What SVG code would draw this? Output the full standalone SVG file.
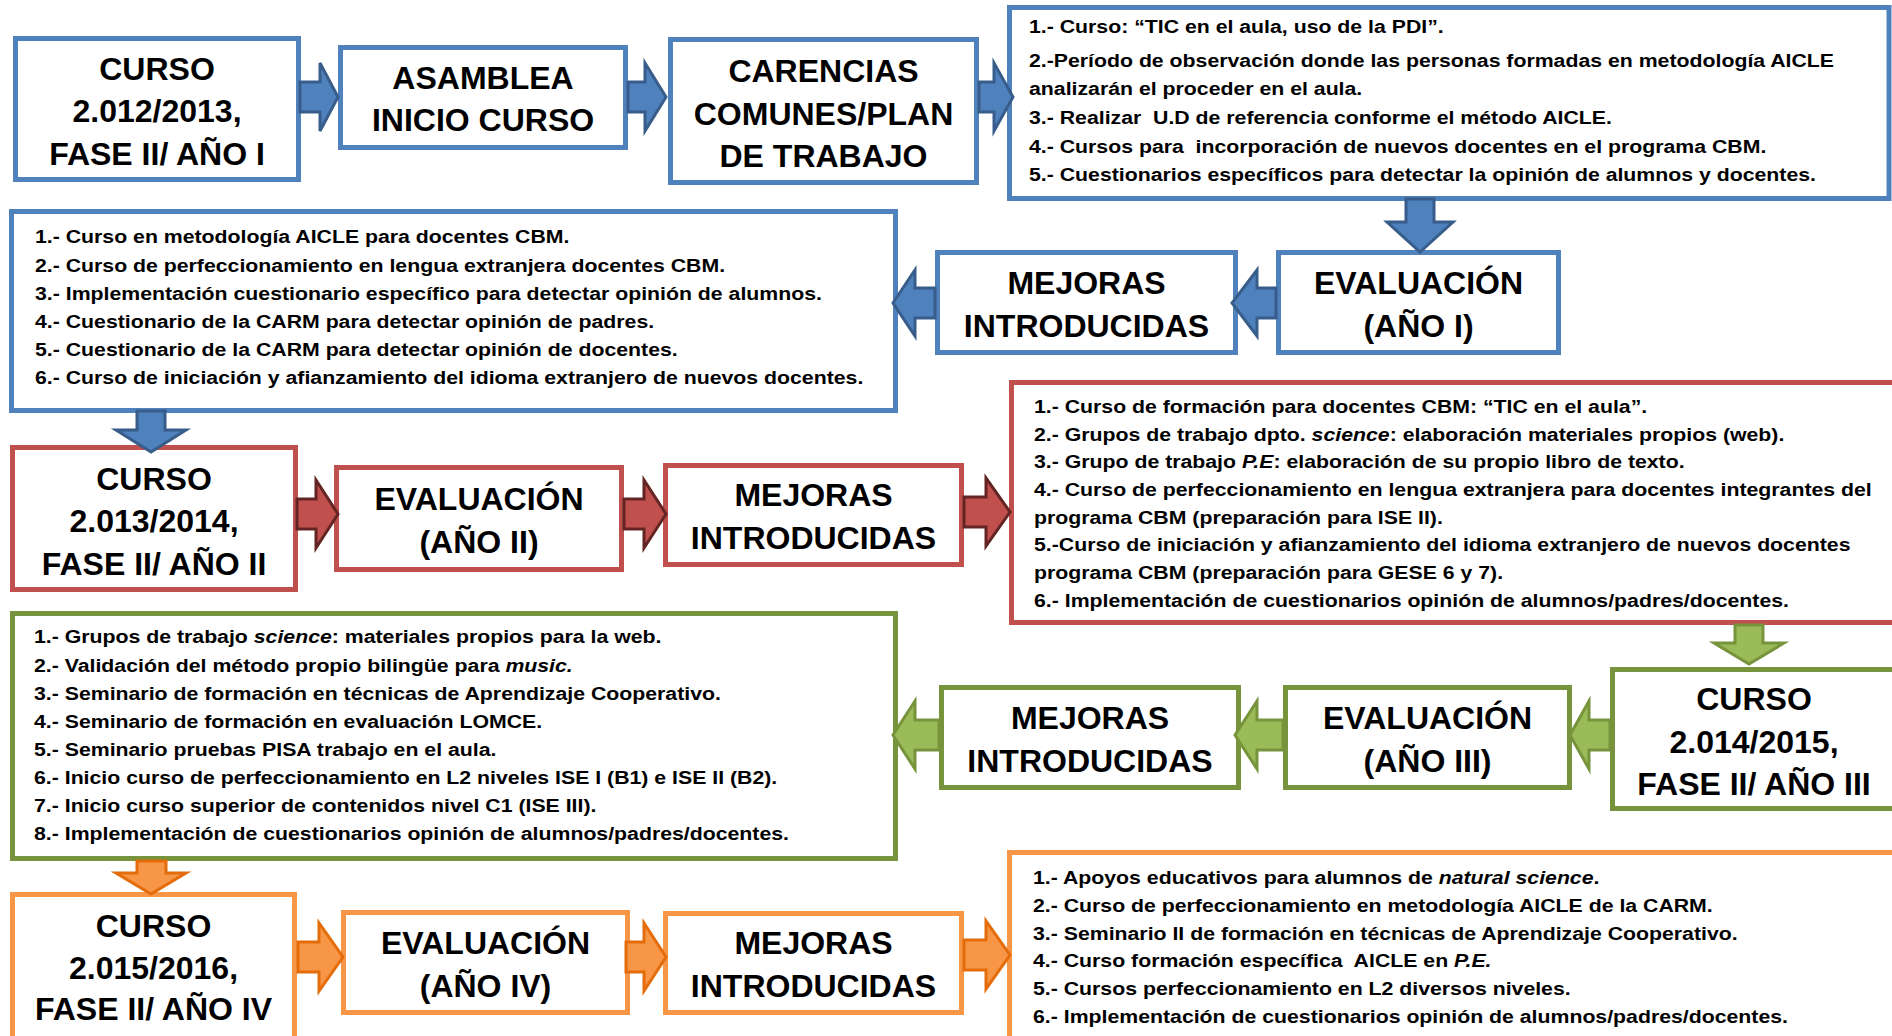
<svg xmlns="http://www.w3.org/2000/svg" width="1892" height="1036" viewBox="0 0 1892 1036">
<style>
  .bx { fill: #FFFFFF; stroke-width: 5; }
  .b { stroke: #4F81BD; }
  .r { stroke: #C0504D; }
  .g { stroke: #77933C; }
  .o { stroke: #F79646; }
  .lbl { font-family: "Liberation Sans", Arial, sans-serif; font-weight: bold; font-size: 32px; fill: #000; text-anchor: middle; }
  .li { font-family: "Liberation Sans", Arial, sans-serif; font-weight: bold; font-size: 19px; fill: #000; white-space: pre; }
  .it { font-style: italic; }
  .ab { fill: #4F81BD; stroke: #385D8A; stroke-width: 3; stroke-linejoin: miter; }
  .ar { fill: #C0504D; stroke: #632523; stroke-width: 3; stroke-linejoin: miter; }
  .ag { fill: #9BBB59; stroke: #77933C; stroke-width: 3; stroke-linejoin: miter; }
  .ao { fill: #F79646; stroke: #E46C0A; stroke-width: 3; stroke-linejoin: miter; }
</style>
<rect x="0" y="0" width="1892" height="1036" fill="#FFFFFF"/>

<!-- Row 1 (blue) -->
<g id="curso2012">
  <rect class="bx b" x="15.5" y="38.5" width="283" height="141"/>
  <text class="lbl" x="157" y="80">CURSO</text>
  <text class="lbl" x="157" y="122">2.012/2013,</text>
  <text class="lbl" x="157" y="165">FASE II/ AÑO I</text>
</g>
<g id="asamblea">
  <rect class="bx b" x="340.5" y="47.5" width="285" height="100"/>
  <text class="lbl" x="483" y="89">ASAMBLEA</text>
  <text class="lbl" x="483" y="131">INICIO CURSO</text>
</g>
<g id="carencias">
  <rect class="bx b" x="670.5" y="39.5" width="306" height="143"/>
  <text class="lbl" x="823.5" y="81.5">CARENCIAS</text>
  <text class="lbl" x="823.5" y="124.5">COMUNES/PLAN</text>
  <text class="lbl" x="823.5" y="167">DE TRABAJO</text>
</g>
<g id="plan1">
  <rect class="bx b" x="1009.5" y="7.5" width="879.5" height="191"/>
  <g transform="translate(1029,0) scale(1.12,1)">
    <text class="li" x="0" y="33">1.- Curso: “TIC en el aula, uso de la PDI”.</text>
    <text class="li" x="0" y="67">2.-Período de observación donde las personas formadas en metodología AICLE</text>
    <text class="li" x="0" y="95.5">analizarán el proceder en el aula.</text>
    <text class="li" x="0" y="124.5">3.- Realizar  U.D de referencia conforme el método AICLE.</text>
    <text class="li" x="0" y="153">4.- Cursos para  incorporación de nuevos docentes en el programa CBM.</text>
    <text class="li" x="0" y="181.5">5.- Cuestionarios específicos para detectar la opinión de alumnos y docentes.</text>
  </g>
</g>

<!-- Row 2 (blue) -->
<g id="eval1">
  <rect class="bx b" x="1278.5" y="252.5" width="280" height="100"/>
  <text class="lbl" x="1418.5" y="293.5">EVALUACIÓN</text>
  <text class="lbl" x="1418.5" y="336.5">(AÑO I)</text>
</g>
<g id="mejoras1">
  <rect class="bx b" x="937.5" y="252.5" width="298" height="100"/>
  <text class="lbl" x="1086.5" y="293.5">MEJORAS</text>
  <text class="lbl" x="1086.5" y="336.5">INTRODUCIDAS</text>
</g>
<g id="lista1">
  <rect class="bx b" x="11.5" y="211.5" width="884" height="199"/>
  <g transform="translate(35,0) scale(1.12,1)">
    <text class="li" x="0" y="243.5">1.- Curso en metodología AICLE para docentes CBM.</text>
    <text class="li" x="0" y="271.7">2.- Curso de perfeccionamiento en lengua extranjera docentes CBM.</text>
    <text class="li" x="0" y="299.9">3.- Implementación cuestionario específico para detectar opinión de alumnos.</text>
    <text class="li" x="0" y="328.1">4.- Cuestionario de la CARM para detectar opinión de padres.</text>
    <text class="li" x="0" y="356.3">5.- Cuestionario de la CARM para detectar opinión de docentes.</text>
    <text class="li" x="0" y="384.5">6.- Curso de iniciación y afianzamiento del idioma extranjero de nuevos docentes.</text>
  </g>
</g>

<!-- Row 3 (red) -->
<g id="curso2013">
  <rect class="bx r" x="12.5" y="447.5" width="283" height="142"/>
  <text class="lbl" x="154" y="489.5">CURSO</text>
  <text class="lbl" x="154" y="532">2.013/2014,</text>
  <text class="lbl" x="154" y="574.5">FASE II/ AÑO II</text>
</g>
<g id="eval2">
  <rect class="bx r" x="336.5" y="467.5" width="285" height="102"/>
  <text class="lbl" x="479" y="509.5">EVALUACIÓN</text>
  <text class="lbl" x="479" y="552.5">(AÑO II)</text>
</g>
<g id="mejoras2">
  <rect class="bx r" x="665.5" y="465.5" width="296" height="99"/>
  <text class="lbl" x="813.5" y="506">MEJORAS</text>
  <text class="lbl" x="813.5" y="549">INTRODUCIDAS</text>
</g>
<g id="lista2">
  <rect class="bx r" x="1011.5" y="382.5" width="900" height="240"/>
  <g transform="translate(1034,0) scale(1.12,1)">
    <text class="li" x="0" y="413">1.- Curso de formación para docentes CBM: “TIC en el aula”.</text>
    <text class="li" x="0" y="440.7">2.- Grupos de trabajo dpto. <tspan class="it">science</tspan>: elaboración materiales propios (web).</text>
    <text class="li" x="0" y="468.4">3.- Grupo de trabajo <tspan class="it">P.E</tspan>: elaboración de su propio libro de texto.</text>
    <text class="li" x="0" y="496.1">4.- Curso de perfeccionamiento en lengua extranjera para docentes integrantes del</text>
    <text class="li" x="0" y="523.8">programa CBM (preparación para ISE II).</text>
    <text class="li" x="0" y="551.5">5.-Curso de iniciación y afianzamiento del idioma extranjero de nuevos docentes</text>
    <text class="li" x="0" y="579.2">programa CBM (preparación para GESE 6 y 7).</text>
    <text class="li" x="0" y="606.9">6.- Implementación de cuestionarios opinión de alumnos/padres/docentes.</text>
  </g>
</g>

<!-- Row 4 (green) -->
<g id="curso2014">
  <rect class="bx g" x="1612.5" y="669.5" width="283" height="139"/>
  <text class="lbl" x="1754" y="710">CURSO</text>
  <text class="lbl" x="1754" y="752.5">2.014/2015,</text>
  <text class="lbl" x="1754" y="795">FASE II/ AÑO III</text>
</g>
<g id="eval3">
  <rect class="bx g" x="1285.5" y="687.5" width="284" height="100"/>
  <text class="lbl" x="1427.5" y="728.5">EVALUACIÓN</text>
  <text class="lbl" x="1427.5" y="771.5">(AÑO III)</text>
</g>
<g id="mejoras3">
  <rect class="bx g" x="941.5" y="687.5" width="297" height="100"/>
  <text class="lbl" x="1090" y="728.5">MEJORAS</text>
  <text class="lbl" x="1090" y="771.5">INTRODUCIDAS</text>
</g>
<g id="lista3">
  <rect class="bx g" x="12.5" y="613.5" width="883" height="245"/>
  <g transform="translate(34,0) scale(1.12,1)">
    <text class="li" x="0" y="643.5">1.- Grupos de trabajo <tspan class="it">science</tspan>: materiales propios para la web.</text>
    <text class="li" x="0" y="671.6">2.- Validación del método propio bilingüe para <tspan class="it">music.</tspan></text>
    <text class="li" x="0" y="699.7">3.- Seminario de formación en técnicas de Aprendizaje Cooperativo.</text>
    <text class="li" x="0" y="727.8">4.- Seminario de formación en evaluación LOMCE.</text>
    <text class="li" x="0" y="755.9">5.- Seminario pruebas PISA trabajo en el aula.</text>
    <text class="li" x="0" y="784">6.- Inicio curso de perfeccionamiento en L2 niveles ISE I (B1) e ISE II (B2).</text>
    <text class="li" x="0" y="812.1">7.- Inicio curso superior de contenidos nivel C1 (ISE III).</text>
    <text class="li" x="0" y="840.2">8.- Implementación de cuestionarios opinión de alumnos/padres/docentes.</text>
  </g>
</g>

<!-- Row 5 (orange) -->
<g id="curso2015">
  <rect class="bx o" x="12.5" y="894.5" width="282" height="160"/>
  <text class="lbl" x="153.5" y="937">CURSO</text>
  <text class="lbl" x="153.5" y="978.5">2.015/2016,</text>
  <text class="lbl" x="153.5" y="1020">FASE II/ AÑO IV</text>
</g>
<g id="eval4">
  <rect class="bx o" x="343.5" y="912.5" width="284" height="100"/>
  <text class="lbl" x="485.5" y="953.5">EVALUACIÓN</text>
  <text class="lbl" x="485.5" y="996.5">(AÑO IV)</text>
</g>
<g id="mejoras4">
  <rect class="bx o" x="665.5" y="913.5" width="296" height="99"/>
  <text class="lbl" x="813.5" y="954">MEJORAS</text>
  <text class="lbl" x="813.5" y="997">INTRODUCIDAS</text>
</g>
<g id="lista4">
  <rect class="bx o" x="1009.5" y="852.5" width="900" height="200"/>
  <g transform="translate(1033,0) scale(1.12,1)">
    <text class="li" x="0" y="884">1.- Apoyos educativos para alumnos de <tspan class="it">natural science</tspan>.</text>
    <text class="li" x="0" y="911.8">2.- Curso de perfeccionamiento en metodología AICLE de la CARM.</text>
    <text class="li" x="0" y="939.6">3.- Seminario II de formación en técnicas de Aprendizaje Cooperativo.</text>
    <text class="li" x="0" y="967.4">4.- Curso formación específica  AICLE en <tspan class="it">P.E.</tspan></text>
    <text class="li" x="0" y="995.2">5.- Cursos perfeccionamiento en L2 diversos niveles.</text>
    <text class="li" x="0" y="1023">6.- Implementación de cuestionarios opinión de alumnos/padres/docentes.</text>
  </g>
</g>

<!-- Connectors -->
<g id="connectors">
  <!-- blue -->
  <path class="ab" d="M300,82 L320,82 L320,63 L338,97 L320,131 L320,112 L300,112 Z"/>
  <path class="ab" d="M628,82 L645,82 L645,63 L666,97 L645,131 L645,112 L628,112 Z"/>
  <path class="ab" d="M979,82 L994,82 L994,63 L1013,97 L994,131 L994,112 L979,112 Z"/>
  <path class="ab" d="M1406,199 L1434,199 L1434,222 L1453,222 L1420,252 L1387,222 L1406,222 Z"/>
  <path class="ab" d="M1276,288 L1257,288 L1257,270 L1232,303 L1257,336 L1257,318 L1276,318 Z"/>
  <path class="ab" d="M935,288 L915,288 L915,270 L893,303 L915,336 L915,318 L935,318 Z"/>
  <path class="ab" d="M137,411 L165,411 L165,430 L186,430 L151,452 L116,430 L137,430 Z"/>
  <!-- red -->
  <path class="ar" d="M297,499 L316,499 L316,480 L338,514 L316,548 L316,529 L297,529 Z"/>
  <path class="ar" d="M624,499 L644,499 L644,480 L666,514 L644,548 L644,529 L624,529 Z"/>
  <path class="ar" d="M964,497 L986,497 L986,478 L1010,512 L986,546 L986,527 L964,527 Z"/>
  <!-- green -->
  <path class="ag" d="M1735,625 L1763,625 L1763,643 L1784,643 L1749,664 L1714,643 L1735,643 Z"/>
  <path class="ag" d="M1610,720 L1589,720 L1589,701 L1570,735 L1589,769 L1589,750 L1610,750 Z"/>
  <path class="ag" d="M1283,720 L1257,720 L1257,701 L1235,735 L1257,769 L1257,750 L1283,750 Z"/>
  <path class="ag" d="M939,720 L915,720 L915,701 L893,735 L915,769 L915,750 L939,750 Z"/>
  <!-- orange -->
  <path class="ao" d="M137,861 L166,861 L166,873 L186,873 L151,894 L116,873 L137,873 Z"/>
  <path class="ao" d="M298,942 L319,942 L319,923 L343,957 L319,991 L319,972 L298,972 Z"/>
  <path class="ao" d="M626,942 L644,942 L644,923 L666,957 L644,991 L644,972 L626,972 Z"/>
  <path class="ao" d="M964,940 L986,940 L986,921 L1010,955 L986,989 L986,970 L964,970 Z"/>
</g>
</svg>
